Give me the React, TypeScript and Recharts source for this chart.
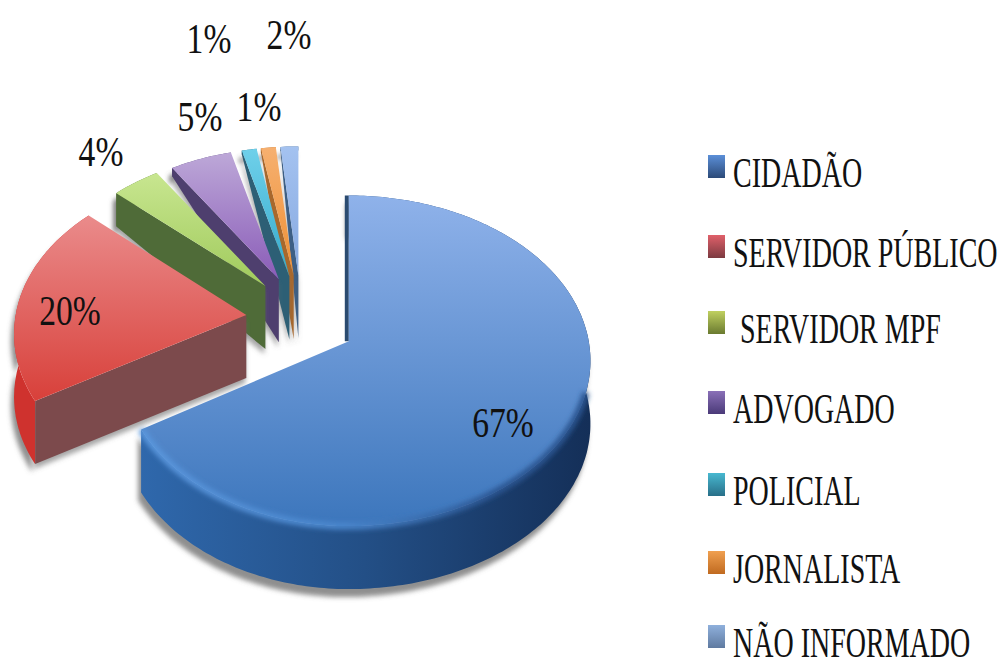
import React from "react";
import { PieChart, Pie, Legend } from "recharts";

const categories = ["CIDADÃO", "SERVIDOR PÚBLICO", "SERVIDOR MPF", "ADVOGADO", "POLICIAL", "JORNALISTA", "NÃO INFORMADO"];
const shares = [66.5, 20.3, 4, 5.2, 1.25, 1.25, 1.5];

const topLight = ["#8fb2ea", "#ea8b8b", "#c8e690", "#bda8d8", "#6fd0ea", "#f6b070", "#a4c2f0"];
const topDark = ["#3c76bc", "#d8403a", "#a0ca5c", "#8a5cb8", "#35aacb", "#ee8f34", "#86a9e0"];
const wallColor = ["#234f86", "#7c4a4c", "#4f6b38", "#4e3f6e", "#2d5f75", "#a8682c", "#3d5f85"];
const rimColor = ["#2f68ac", "#cf322e", "#5a7a3c", "#5a4a80", "#2d6f85", "#b8702c", "#4a6f9a"];
const markerLight = ["#5b8fd8", "#e0606a", "#c0d060", "#8a70b8", "#48b8d0", "#f0a050", "#8fb0dc"];
const markerDark = ["#2c4a78", "#7c3a40", "#6a7a30", "#4a3a78", "#286f88", "#c06a20", "#5f7aa0"];

const labelAnchors = [[503, 437], [70, 325], [101, 166], [200, 131], [209, 53], [259, 121], [289, 49]];
const legendBaselines = [187, 267, 343, 423, 505, 583, 657];
const legendText = [733, 733, 740, 733, 733, 733, 733];

const table = categories.map((name, i) => ({ name, value: shares[i] })).reverse();

const CX = 301, CY = 319.5, EX = 55, EY = 44;
const A = 240, B = 163, K = 0.118;
const rad = (d: number) => (d * Math.PI) / 180;
const depth = (y: number) => Math.max(4, Math.min(63, y - 160));
const fmt = (p: number[]) => `${p[0].toFixed(1)} ${p[1].toFixed(1)}`;

function SliceShape(props: any) {
  const a0 = 90 - props.startAngle;
  const a1 = 90 - props.endAngle;
  const lo = Math.min(a0, a1);
  const hi = Math.max(a0, a1);
  const mid = (lo + hi) / 2;
  const i = categories.indexOf(props.name ?? props.payload?.name);
  const mu = Math.sin(rad(mid));
  const mv = -Math.cos(rad(mid));
  const apex = [CX + EX * mu, CY + EY * mv];
  const s = mv >= -0.1 ? 0.98 + 0.04 * mv : 0.976 + 0.1 * (mv + 0.1);
  const leftLean = i === 0 ? 0.945 : i === 1 ? 0.985 : 1;
  const at = (t: number) => {
    const u = Math.sin(rad(t));
    const v = -Math.cos(rad(t));
    const w = 1 - K * v;
    return [apex[0] + (A * s * u * (u < 0 ? leftLean : 1)) / w, apex[1] + (B * s * v) / w];
  };
  const down = (p: number[]) => [p[0], p[1] + depth(p[1])];
  const rim: number[][] = [];
  const steps = Math.max(4, Math.ceil(hi - lo));
  for (let n = 0; n <= steps; n++) rim.push(at(lo + ((hi - lo) * n) / steps));
  const topPath = `M${fmt(apex)} L${rim.map(fmt).join(" L")} Z`;
  const rimPath = `M${rim.map(fmt).join(" L")} L${rim.map(down).reverse().map(fmt).join(" L")} Z`;
  const first = rim[0];
  const wallPath = `M${fmt(apex)} L${fmt(first)} L${fmt(down(first))} L${fmt(down(apex))} Z`;
  const frontRim = rim.filter((p) => p[1] > apex[1] + 50);
  const minY = Math.min(...rim.map((p) => p[1]));
  const maxY = Math.max(apex[1], ...rim.map((p) => p[1]));
  return (
    <g>
      <defs>
        <linearGradient id={`top${i}`} gradientUnits="userSpaceOnUse" x1="0" y1={minY} x2="0" y2={maxY}>
          <stop offset="0" stopColor={topLight[i]} />
          <stop offset="1" stopColor={topDark[i]} />
        </linearGradient>
        <linearGradient id={`rim${i}`} gradientUnits="userSpaceOnUse" x1="140" y1="0" x2="590" y2="0">
          <stop offset="0" stopColor={rimColor[i]} />
          <stop offset="0.5" stopColor={i === 0 ? "#234f86" : rimColor[i]} />
          <stop offset="1" stopColor={i === 0 ? "#142f58" : rimColor[i]} />
        </linearGradient>
        <linearGradient id={`edge${i}`} gradientUnits="userSpaceOnUse" x1="140" y1="0" x2="590" y2="0">
          <stop offset="0" stopColor="#5a96dc" />
          <stop offset="0.45" stopColor="#4a86cc" />
          <stop offset="0.8" stopColor="#2a5490" />
          <stop offset="1" stopColor="#2a5490" />
        </linearGradient>
        <filter id={`soft${i}`} filterUnits="userSpaceOnUse" x="0" y="0" width="1004" height="666">
          <feGaussianBlur stdDeviation="2.5" />
        </filter>
      </defs>
      <path d={rimPath} fill="#6a6a6a" fillOpacity={0.75} transform="translate(-3 8)" filter={`url(#soft${i})`} />
      <path d={wallPath} fill="#6a6a6a" fillOpacity={0.6} transform="translate(-1 5)" filter={`url(#soft${i})`} />
      <path d={rimPath} fill={`url(#rim${i})`} />
      <path d={wallPath} fill={wallColor[i]} />
      {i === 0 && <path d={`M${fmt([apex[0] - 2, apex[1]])} L${fmt([first[0] - 2, first[1]])}`} stroke="#2b4b70" strokeWidth={4} fill="none" />}
      <path d={topPath} fill={`url(#top${i})`} />
      {i === 0 && (
        <path d={`M${frontRim.map(fmt).join(" L")}`} stroke={`url(#edge${i})`} strokeWidth={7} fill="none" filter={`url(#soft${i})`} />
      )}
    </g>
  );
}

function SliceLabel(props: any) {
  const i = categories.indexOf(props.name ?? props.payload?.name);
  const [x, y] = labelAnchors[i];
  return (
    <text
      transform={`translate(${x} ${y}) scale(0.8 1)`}
      textAnchor="middle"
      fontFamily="Liberation Serif"
      fontSize={42}
      fill="#111"
    >
      {`${Math.round(shares[i])}%`}
    </text>
  );
}

function LegendBlock() {
  return (
    <svg width={1004} height={666} style={{ display: "block" }}>
      <defs>
        {categories.map((c, i) => (
          <linearGradient key={c} id={`mark${i}`} x1="0" y1="0" x2="0" y2="1">
            <stop offset="0" stopColor={markerLight[i]} />
            <stop offset="1" stopColor={markerDark[i]} />
          </linearGradient>
        ))}
      </defs>
      {categories.map((c, i) => (
        <g key={c}>
          <rect x={708} y={legendBaselines[i] - 32} width={17} height={23} fill={`url(#mark${i})`} />
          <text
            transform={`translate(${legendText[i]} ${legendBaselines[i]}) scale(0.675 1)`}
            fontFamily="Liberation Serif"
            fontSize={41.5}
            fill="#111"
          >
            {c}
          </text>
        </g>
      ))}
    </svg>
  );
}

export default function App() {
  return (
    <div style={{ position: "absolute", left: 0, top: 0, width: 1004, height: 666, background: "#fff", overflow: "hidden" }}>
      <PieChart width={1004} height={666} margin={{ top: 0, right: 0, bottom: 0, left: 0 }}>
        <Pie
          data={table}
          dataKey="value"
          nameKey="name"
          cx={CX}
          cy={CY}
          outerRadius={200}
          startAngle={-270}
          endAngle={90}
          stroke="none"
          labelLine={false}
          label={SliceLabel}
          shape={SliceShape}
          isAnimationActive={false}
        />
        <Legend content={LegendBlock} wrapperStyle={{ position: "absolute", left: 0, top: 0, width: 1004, height: 666, pointerEvents: "none" }} />
      </PieChart>
    </div>
  );
}
